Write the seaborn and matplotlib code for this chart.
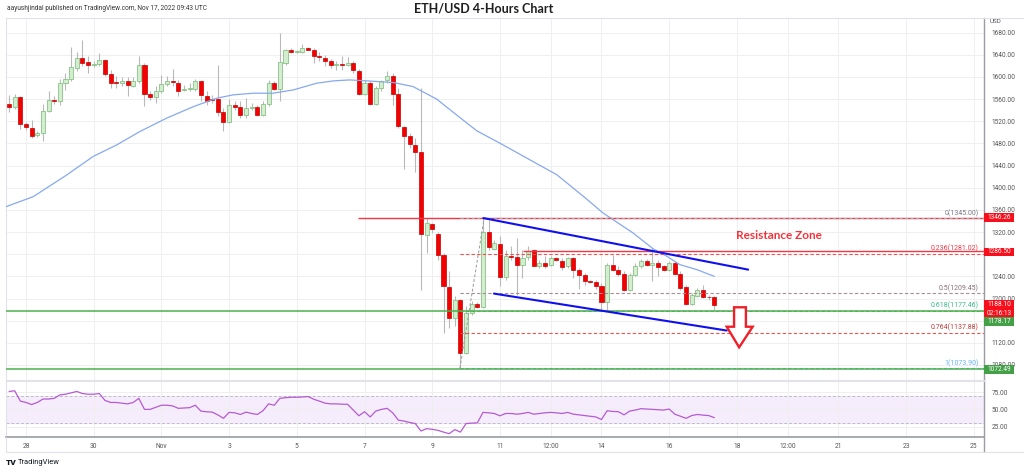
import numpy as np
import pandas as pd
import matplotlib
matplotlib.use("Agg")
import matplotlib.pyplot as plt
import seaborn as sns
from matplotlib.transforms import blended_transform_factory
from matplotlib.lines import Line2D
from matplotlib.patches import Polygon, Rectangle

# ---------------- data ----------------
candle_start = "2022-10-27 12:00"   # first 4h candle
axis_origin = "2022-10-28 00:00"    # x = 0 (label "28")

opens = [1551, 1545, 1563, 1515, 1508, 1495, 1499, 1539, 1558, 1556,
         1590, 1596, 1616, 1634, 1627, 1621, 1624, 1631, 1606, 1590,
         1589, 1592, 1583, 1592, 1622, 1570, 1564, 1574, 1587, 1592,
         1590, 1576, 1578, 1579, 1592, 1566, 1560, 1560, 1537, 1519,
         1549, 1545, 1532, 1544, 1546, 1532, 1551, 1590, 1579, 1625,
         1648, 1645, 1646, 1652, 1649, 1638, 1634, 1628, 1622, 1624,
         1622, 1626, 1611, 1570, 1589, 1551, 1581, 1594, 1602, 1570,
         1509, 1494, 1478, 1465, 1315, 1335, 1317, 1279, 1221, 1165,
         1198, 1102, 1174, 1191, 1185, 1320, 1290, 1299, 1239, 1277,
         1275, 1260, 1275, 1287, 1259, 1265, 1261, 1273, 1268, 1258,
         1273, 1251, 1243, 1232, 1229, 1223, 1194, 1261, 1252, 1245,
         1215, 1243, 1258, 1268, 1261, 1264, 1258, 1252, 1264, 1245,
         1221, 1191, 1205, 1216, 1203, 1203]
highs = [1568, 1570, 1565, 1518, 1522, 1503, 1551, 1575, 1566, 1596,
         1607, 1654, 1646, 1667, 1637, 1628, 1643, 1632, 1613, 1601,
         1600, 1600, 1600, 1637, 1625, 1574, 1583, 1604, 1601, 1614,
         1595, 1586, 1589, 1597, 1595, 1574, 1568, 1622, 1544, 1560,
         1556, 1556, 1562, 1553, 1550, 1556, 1595, 1593, 1679, 1650,
         1652, 1649, 1659, 1654, 1652, 1646, 1640, 1632, 1628, 1637,
         1636, 1628, 1614, 1595, 1593, 1583, 1595, 1610, 1607, 1580,
         1512, 1499, 1490, 1580, 1345, 1336, 1321, 1282, 1249, 1204,
         1200, 1186, 1195, 1193, 1345, 1342, 1306, 1312, 1288, 1294,
         1309, 1288, 1294, 1290, 1270, 1276, 1276, 1275, 1273, 1275,
         1275, 1255, 1246, 1234, 1234, 1228, 1264, 1279, 1258, 1249,
         1246, 1264, 1271, 1271, 1291, 1270, 1261, 1267, 1267, 1249,
         1225, 1210, 1219, 1225, 1207, 1204]
lows = [1536, 1543, 1506, 1505, 1490, 1492, 1484, 1536, 1552, 1550,
        1577, 1592, 1610, 1619, 1607, 1618, 1619, 1602, 1580, 1580,
        1583, 1565, 1582, 1589, 1547, 1559, 1553, 1571, 1583, 1583,
        1565, 1574, 1574, 1574, 1556, 1550, 1553, 1530, 1503, 1517,
        1541, 1526, 1526, 1541, 1529, 1529, 1548, 1577, 1557, 1622,
        1643, 1643, 1643, 1648, 1626, 1628, 1619, 1616, 1613, 1613,
        1619, 1607, 1568, 1568, 1550, 1550, 1574, 1589, 1550, 1507,
        1434, 1471, 1428, 1215, 1282, 1318, 1270, 1138, 1147, 1150,
        1074, 1099, 1171, 1182, 1183, 1288, 1288, 1222, 1234, 1270,
        1207, 1237, 1270, 1258, 1255, 1255, 1258, 1267, 1252, 1255,
        1237, 1217, 1225, 1228, 1217, 1180, 1180, 1249, 1240, 1213,
        1213, 1240, 1255, 1258, 1231, 1240, 1249, 1249, 1243, 1216,
        1189, 1189, 1203, 1201, 1198, 1180]
closes = [1545, 1563, 1515, 1509, 1494, 1499, 1538, 1558, 1556, 1590,
          1596, 1618, 1634, 1625, 1622, 1624, 1631, 1606, 1589, 1589,
          1592, 1585, 1592, 1622, 1570, 1564, 1574, 1587, 1592, 1591,
          1575, 1579, 1580, 1592, 1567, 1557, 1558, 1537, 1519, 1549,
          1546, 1532, 1544, 1546, 1532, 1551, 1589, 1579, 1627, 1648,
          1645, 1646, 1652, 1649, 1637, 1636, 1628, 1622, 1624, 1621,
          1625, 1612, 1570, 1589, 1551, 1581, 1592, 1602, 1570, 1512,
          1494, 1479, 1465, 1317, 1336, 1326, 1279, 1222, 1165, 1198,
          1102, 1174, 1191, 1185, 1320, 1293, 1300, 1239, 1277, 1275,
          1260, 1273, 1285, 1259, 1265, 1259, 1273, 1269, 1257, 1273,
          1251, 1243, 1231, 1230, 1223, 1194, 1261, 1251, 1245, 1216,
          1243, 1258, 1267, 1261, 1264, 1257, 1252, 1264, 1245, 1219,
          1191, 1207, 1215, 1203, 1202, 1188]

rsi_values = [76, 77, 62, 60, 57, 60, 65, 65, 66, 71,
              72, 74, 76, 73, 72, 72, 73, 63, 60, 60,
              59, 58, 60, 66, 50, 50, 53, 56, 56, 55,
              51.5, 52, 52.5, 56, 47.5, 46.5, 46, 42, 37, 45.6,
              45, 42.6, 46, 44, 42.6, 48, 58, 56, 66, 67,
              67.6, 67.6, 68, 68.6, 64.7, 62, 59, 58, 58, 57.5,
              57.4, 49, 40.7, 46.6, 39, 47.5, 50, 51.5, 45, 34.3,
              33, 31, 29.4, 18.6, 22, 21, 19.6, 17, 14.7, 20.6,
              17, 29.4, 30, 30.4, 45.6, 45, 44, 40.7, 44, 44,
              43, 44, 45.6, 43, 44, 45, 45.6, 45, 44, 45.6,
              43, 42, 41, 40, 39, 35.3, 48, 47, 46.6, 42,
              47.5, 49, 51, 50.5, 50, 49.5, 49, 50.5, 43, 40,
              37, 41, 42.6, 41.6, 41, 38]

# moving average, read as points (x in 4h bars from Oct 28)
ma_pos = [-3.5, 1.3, 7.2, 11.9, 16.1, 20.2, 24.9, 29.7, 33.8, 36.7, 40.3,
          43.8, 47.4, 51.5, 54.5, 57.4, 60.4, 65.1, 68.6, 72.8, 76.3, 79.9,
          84.0, 89.3, 94.1, 98.8, 102.3, 107.6, 111.2, 113.6, 115.9, 118.9, 122.0]
ma_values = [1366, 1384, 1423, 1456.5, 1477.5, 1501.6, 1525.6, 1546.6, 1561.7,
             1567.7, 1570.7, 1570.7, 1576.7, 1588.7, 1593, 1594.7, 1593, 1590,
             1582.7, 1560, 1531.6, 1502.8, 1480.5, 1450.5, 1423.4, 1384.4,
             1354.3, 1318.3, 1289.5, 1276.2, 1261.2, 1252.2, 1240]

tick_days = [0, 2, 4, 6, 8, 10, 12, 14, 15.5, 17, 19, 21, 22.5, 24, 26, 28]
tick_labels = ["28", "30", "Nov", "3", "5", "7", "9", "11", "12:00",
               "14", "16", "18", "12:00", "21", "23", "25"]
price_ticks = list(range(1080, 1681, 40))
hidden_price_ticks = [1280, 1160]   # covered by the price-scale boxes
rsi_ticks = [25, 50, 75]

resistance_levels = [1346.26, 1286.50]
support_levels = [1178.17, 1072.49]
fib_ratios = [0, 0.236, 0.5, 0.618, 0.764, 1]
fib_prices = [1345.00, 1281.02, 1209.45, 1177.46, 1137.88, 1073.90]
last_price = 1188.10
countdown = "02:16:13"

upper_channel_x = [81.06, 128.0]
upper_channel_y = [1345.3, 1252.2]
lower_channel_x = [82.95, 124.2]
lower_channel_y = [1208.9, 1142.2]

# ---------------- style / layout ----------------
sns.set_theme(style="white")
plt.rcParams['font.family'] = ['Roboto', 'DejaVu Sans']

W, H = 1024, 472
fig = plt.figure(figsize=(W / 100, H / 100), dpi=100)
fig.patch.set_facecolor('white')


def fx(px):
    return px / W


def fy(py):
    return 1 - py / H


LEFT, RIGHT = 6, 984
ax = fig.add_axes([fx(LEFT), fy(380), fx(RIGHT) - fx(LEFT), fy(18) - fy(380)])
axr = fig.add_axes([fx(LEFT), fy(436.7), fx(RIGHT) - fx(LEFT), fy(381) - fy(436.7)], sharex=ax)

XMIN, XMAX = -3.545, 169.8
YMIN, YMAX = 1052.9, 1706.5
px_per_usd = (380 - 18) / (YMAX - YMIN)

n = len(opens)
times = pd.date_range(candle_start, periods=n, freq="4h")
xpos = ((times - pd.Timestamp(axis_origin)) / pd.Timedelta("4h")).to_numpy(dtype=float)
o = np.array(opens, float)
h = np.array(highs, float)
l = np.array(lows, float)
c = np.array(closes, float)
up = c >= o

# candles
ax.vlines(xpos, l, h, color='#b9b9b9', lw=0.8, zorder=2)
body_lo = np.minimum(o, c)
body_h = np.maximum(np.abs(c - o), 1.3)
ax.bar(xpos[up], body_h[up], bottom=body_lo[up], width=0.72,
       color='#d4ecd0', edgecolor='#88c486', lw=0.6, zorder=3)
ax.bar(xpos[~up], body_h[~up], bottom=body_lo[~up], width=0.72,
       color='#f40000', edgecolor='#c40000', lw=0.5, zorder=3)

# moving average
sns.lineplot(x=ma_pos, y=ma_values, ax=ax, color='#86a9ee', lw=0.9, zorder=4)

# support / resistance lines
res_start = [58.8, 88.1]
for p, xs in zip(resistance_levels, res_start):
    ax.hlines(p, xs, XMAX, color='#f23645', lw=1.0, zorder=5)

# fibonacci
fib_line_colors = ['#a7a7b0', '#ef5350', '#a58d98', '#66bb6a', '#ef5350', '#64b5f6']
fib_text_colors = ['#787b86', '#f23645', '#8a6d7a', '#3dbb8a', '#c03a3a', '#64b5f6']
FIB_START = 76.9
for r, p, lc, tc in zip(fib_ratios, fib_prices, fib_line_colors, fib_text_colors):
    ax.hlines(p, FIB_START, XMAX, color=lc, lw=0.8, linestyles=(0, (3, 2)), zorder=5)
    ax.text(168.9, p + 2.5, f"{r:g}({p:.2f})", ha='right', va='bottom',
            fontsize=5, color=tc, zorder=6)
ax.plot([FIB_START, 81.2], [fib_prices[-1], fib_prices[0]], color='#9a9a9a',
        lw=0.7, ls=(0, (3, 2)), zorder=5)

for p in support_levels:
    ax.axhline(p, color='#4caf50', lw=1.1, zorder=5)

# channel
ax.plot(upper_channel_x, upper_channel_y, color='#1010ee', lw=1.5, zorder=7)
ax.plot(lower_channel_x, lower_channel_y, color='#1010ee', lw=1.5, zorder=7)

# arrow
arrow_pts = [(125.5, 1184.2), (127.6, 1184.2), (127.6, 1149.1), (128.8, 1149.1),
             (126.4, 1111.9), (124.2, 1149.1), (125.5, 1149.1)]
ax.add_patch(Polygon(arrow_pts, closed=True, facecolor='white', edgecolor='#f0202a',
                     lw=1.7, zorder=8, joinstyle='miter'))

ax.text(133.4, 1314.7, "Resistance Zone", ha='center', va='center', color='#f2333d',
        fontsize=8.5, fontweight='bold', family=['Lato', 'DejaVu Sans'], zorder=8)

# RSI pane
axr.axhspan(30, 70, color='#f5ecfc', zorder=0)
for lv in (70, 30):
    axr.axhline(lv, color='#bdbdc6', lw=0.7, ls=(0, (3, 2)), zorder=1)
sns.lineplot(x=xpos, y=rsi_values, ax=axr, color='#b55bd2', lw=0.9, zorder=3)

# ticks & grid
tick_pos = [d * 6 for d in tick_days]
for a in (ax, axr):
    a.set_xlim(XMIN, XMAX)
    a.yaxis.tick_right()
    a.tick_params(length=0)
    a.grid(True, color='#efefef', lw=0.7)
    a.set_xlabel("")
    a.set_ylabel("")
    for s in a.spines.values():
        s.set_color('#e2e3e8')
        s.set_linewidth(0.8)
    a.spines['right'].set_color('#9a9ca3')
    a.spines['right'].set_linewidth(1.0)

axr.set_xticks(tick_pos, labels=tick_labels)
ax.tick_params(axis='x', labelbottom=False)
axr.tick_params(axis='x', labelsize=4.8, labelcolor='#555555', pad=4.2)
axr.spines['bottom'].set_color('#9a9ca3')
axr.spines['bottom'].set_linewidth(1.2)

ax.set_yticks(price_ticks, labels=["" if v in hidden_price_ticks else f"{v:.2f}"
                                   for v in price_ticks])
ax.tick_params(axis='y', labelsize=4.7, labelcolor='#555555', pad=5.5)
axr.set_yticks(rsi_ticks, labels=[f"{v:.2f}" for v in rsi_ticks])
axr.tick_params(axis='y', labelsize=4.7, labelcolor='#555555', pad=5.5)

ax.set_ylim(YMIN, YMAX)
axr.set_ylim(10.3, 91.2)

# price-scale boxes
blend = blended_transform_factory(fig.transFigure, ax.transData)


def axis_box(center, text, color, h_px=8.2):
    hh = h_px / px_per_usd
    ax.add_patch(Rectangle((fx(984.3), center - hh / 2), fx(29.2), hh, transform=blend,
                           facecolor=color, edgecolor='none', clip_on=False, zorder=20))
    ax.text(fx(998.9), center, text, transform=blend, ha='center', va='center',
            color='white', fontsize=4.7, zorder=21, clip_on=False, linespacing=1.35)


axis_box(resistance_levels[0] - 0.1, f"{resistance_levels[0]:.2f}", '#f70f1b')
axis_box(resistance_levels[1] - 2.0, f"{resistance_levels[1]:.2f}", '#f70f1b')
axis_box(1181.6, f"{last_price:.2f}\n{countdown}", '#f70f1b', h_px=17.3)
axis_box(1158.1, f"{support_levels[0]:.2f}", '#43a047', h_px=8.7)
axis_box(support_levels[1] - 0.7, f"{support_levels[1]:.2f}", '#43a047')

# frame lines / header / footer
fig.add_artist(Line2D([fx(984.3)] * 2, [fy(436.7), fy(452)], color='#9a9ca3', lw=1.0))
fig.add_artist(Line2D([fx(6), fx(1024)], [fy(452), fy(452)], color='#e2e3e8', lw=0.8))
fig.add_artist(Line2D([fx(6)] * 2, [fy(436.7), fy(452)], color='#e2e3e8', lw=0.8))
fig.add_artist(Line2D([fx(984.3), fx(1024)], [fy(18), fy(18)], color='#e2e3e8', lw=0.8))

fig.text(fx(990), fy(21.7), "USD", fontsize=4.5, color='#555555', va='center')
fig.text(fx(7), fy(8.3), "aayushjindal published on TradingView.com, Nov 17, 2022 09:43 UTC",
         fontsize=4.7, color='#333333', va='center')
fig.text(fx(484), fy(8.6), "ETH/USD 4-Hours Chart", fontsize=9, fontweight='bold',
         color='#1e1e1e', ha='center', va='center', family=['Lato', 'DejaVu Sans'])
fig.text(fx(6), fy(462.3), "TV", fontsize=6, fontweight='heavy', color='#131722', va='center')
fig.text(fx(18.3), fy(462.3), "TradingView", fontsize=5.4, color='#131722', va='center')

fig.savefig("out.png", dpi=100)
